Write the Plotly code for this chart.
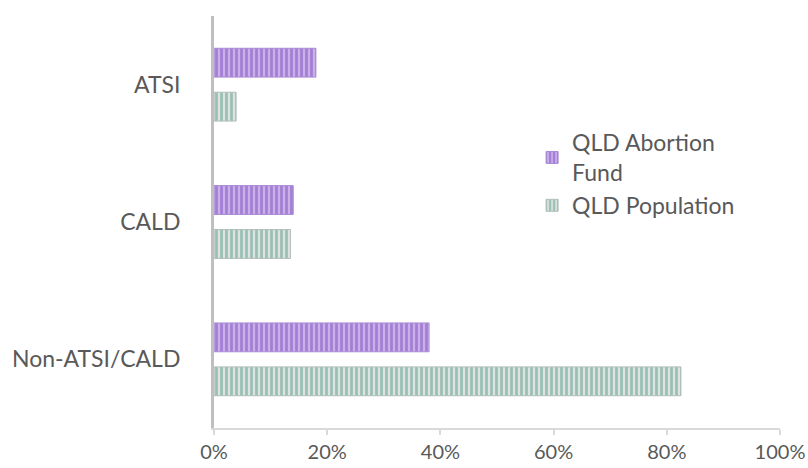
import plotly.graph_objects as go

categories = ["ATSI", "CALD", "Non-ATSI/CALD"]
fund_values = [0.18, 0.14, 0.38]
pop_values = [0.039, 0.135, 0.825]
tick_vals = [0, 0.2, 0.4, 0.6, 0.8, 1.0]
tick_text = ["0%", "20%", "40%", "60%", "80%", "100%"]

font_family = "Lato, 'Open Sans', sans-serif"
text_color = "#595959"

fig = go.Figure()
fig.add_trace(go.Bar(
    y=categories, x=fund_values, orientation="h",
    name="QLD Abortion<br>Fund",
    width=0.21, offset=0.055,
    marker=dict(
        color="#b597e0",
        line=dict(color="#a98bd6", width=1),
        pattern=dict(shape="|", fgcolor="#7c4cbf", bgcolor="#c9b0e8",
                     size=5, solidity=0.55),
    ),
))
fig.add_trace(go.Bar(
    y=categories, x=pop_values, orientation="h",
    name="QLD Population",
    width=0.21, offset=-0.265,
    marker=dict(
        color="#c8d8d2",
        line=dict(color="#b0beb8", width=1),
        pattern=dict(shape="|", fgcolor="#4fa088", bgcolor="#e0e2e1",
                     size=5, solidity=0.55),
    ),
))

fig.update_layout(
    width=808, height=468,
    margin=dict(l=214, r=28, t=16, b=40, autoexpand=False),
    paper_bgcolor="white", plot_bgcolor="white",
    barmode="overlay",
    showlegend=True,
    font=dict(family=font_family, size=22, color=text_color),
    legend=dict(
        x=0.562, y=0.745, xanchor="left", yanchor="top",
        font=dict(size=23, color=text_color),
        bgcolor="rgba(0,0,0,0)",
        itemwidth=30,
        traceorder="normal",
        tracegroupgap=0,
    ),
    xaxis=dict(
        range=[0, 1], tickvals=tick_vals, ticktext=tick_text,
        showgrid=False, zeroline=False, automargin=False,
        showline=True, linecolor="#d9d9d9", linewidth=2,
        ticks="outside", ticklen=5, tickcolor="#d9d9d9", tickwidth=2,
        tickfont=dict(size=20, color=text_color),
    ),
    yaxis=dict(
        categoryorder="array", categoryarray=categories[::-1],
        range=[-0.5, 2.5], automargin=False,
        showgrid=False, zeroline=False,
        showline=True, linecolor="#bfbfbf", linewidth=3,
        ticks="", ticklabelstandoff=26,
        tickfont=dict(size=23, color=text_color),
    ),
)

fig.write_html("out.html")
